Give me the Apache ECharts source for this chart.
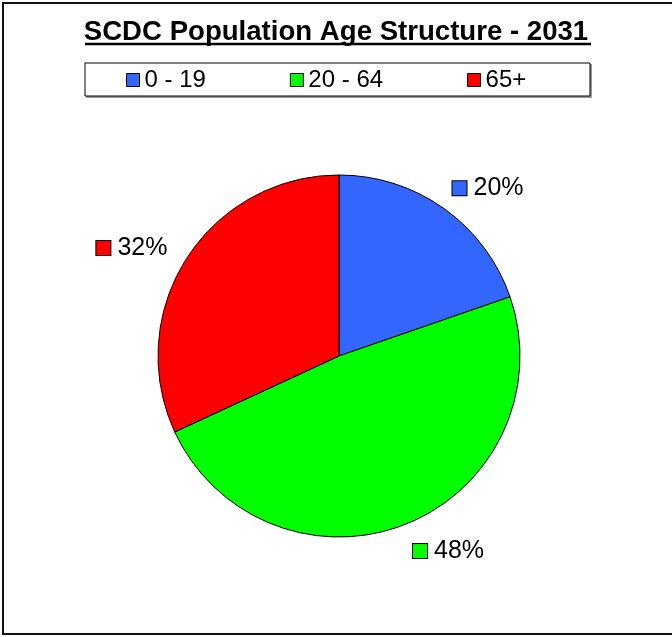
<!DOCTYPE html>
<html>
<head>
<meta charset="utf-8">
<script src="https://cdn.jsdelivr.net/npm/echarts@6/dist/echarts.min.js"></script>
<style>
html,body{margin:0;padding:0;background:#fff;}
#chart{width:672px;height:637px;}
</style>
</head>
<body>
<div id="chart"></div>
<script>
const titleText = 'SCDC Population Age Structure - 2031';
const categories = ['0 - 19', '20 - 64', '65+'];
const values = [19.7, 48.4, 31.9];
const colors = ['#3366FF', '#00FF00', '#FF0000'];

const chart = echarts.init(document.getElementById('chart'));
const rich = {};
colors.forEach((c, i) => {
  rich['sq' + i] = { width: 14, height: 14, backgroundColor: c, borderColor: '#000', borderWidth: 1 };
});
rich.t = { fontSize: 25, fontFamily: 'Liberation Sans, Arial', color: '#000', padding: [0, 0, 0, 7] };

chart.setOption({
  animation: false,
  title: {
    text: titleText,
    left: 'center',
    top: 18,
    padding: 0,
    textStyle: { fontSize: 27.6, fontWeight: 'bold', fontFamily: 'Liberation Sans, Arial', color: '#000' }
  },
  legend: {
    data: categories,
    left: 126,
    top: 68,
    padding: 0,
    itemGap: 84,
    itemWidth: 13,
    itemHeight: 13,
    icon: 'rect',
    itemStyle: { borderColor: '#000', borderWidth: 1 },
    textStyle: { fontSize: 24, fontFamily: 'Liberation Sans, Arial', color: '#000' }
  },
  graphic: [
    { type: 'rect', shape: { x: 3, y: 3, width: 720, height: 631 }, style: { fill: 'none', stroke: '#111', lineWidth: 2 }, z: -1 },
    { type: 'line', shape: { x1: 85, y1: 44, x2: 591, y2: 44 }, style: { stroke: '#000', lineWidth: 2.5 } },
    { type: 'rect', shape: { x: 86, y: 64, width: 506, height: 34 }, style: { fill: '#999', stroke: 'none' }, z: -1 },
    { type: 'rect', shape: { x: 85, y: 63, width: 505, height: 33 }, style: { fill: '#fff', stroke: '#000', lineWidth: 1 }, z: 0 }
  ],
  series: [{
    type: 'pie',
    center: [339, 356],
    radius: 181,
    startAngle: 90,
    clockwise: true,
    percentPrecision: 0,
    data: categories.map((c, i) => ({ name: c, value: values[i], itemStyle: { color: colors[i] } })),
    itemStyle: { borderColor: '#000', borderWidth: 1 },
    label: {
      show: true,
      position: 'outside',
      formatter: p => '{sq' + p.dataIndex + '|}{t|' + p.percent + '%}',
      rich: rich
    },
    labelLine: { show: false, length: 25, length2: 0 },
    labelLayout: p => {
      const right = p.labelRect.x > 339;
      const dx = p.dataIndex === 1 ? -8 : (right ? -11 : 7);
      return { dx: dx, dy: p.dataIndex === 1 ? 4 : (p.dataIndex === 2 ? 3 : 0) };
    },
    emphasis: { disabled: true }
  }]
});
</script>
</body>
</html>
